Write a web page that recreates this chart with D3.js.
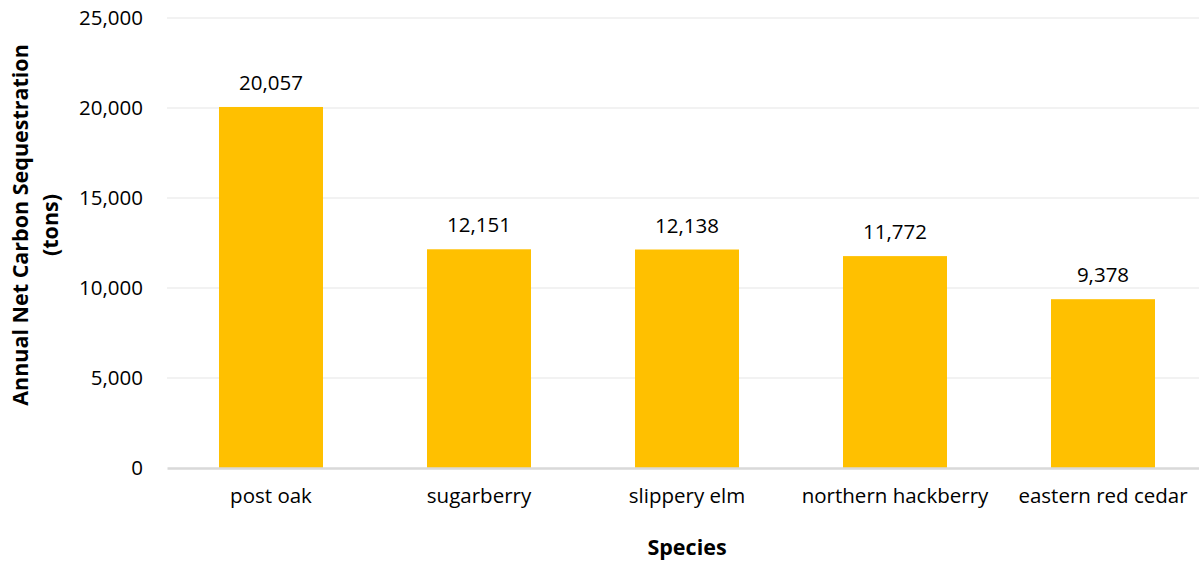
<!DOCTYPE html>
<html>
<head>
<meta charset="utf-8">
<script src="https://cdn.jsdelivr.net/npm/d3@7"></script>
<style>
  html, body { margin: 0; padding: 0; background: #fff; overflow: hidden; }
  svg { display: block; font-family: "Open Sans", "Liberation Sans", sans-serif; }
</style>
</head>
<body>
<svg id="chart" width="1199" height="561"></svg>
<script>
// Annual net carbon sequestration by species (tons)
const species = ["post oak", "sugarberry", "slippery elm", "northern hackberry", "eastern red cedar"];
const sequestration = [20057, 12151, 12138, 11772, 9378];
const yTicks = [0, 5000, 10000, 15000, 20000, 25000];

const svg = d3.select("#chart");
const margin = { left: 167, right: -8, top: 18, bottom: 93 };
const W = 1199, H = 561;
const labelSize = 20.5, titleSize = 21.5;

const x = d3.scaleBand()
  .domain(species)
  .range([margin.left, W - margin.right])
  .paddingInner(0.5)
  .paddingOuter(0.25);

const y = d3.scaleLinear()
  .domain([0, 25000])
  .range([H - margin.bottom, margin.top]);

const fmt = d3.format(",");

// horizontal gridlines
svg.append("g")
  .selectAll("line")
  .data(yTicks.filter(d => d > 0))
  .join("line")
  .attr("x1", margin.left)
  .attr("x2", W)
  .attr("y1", d => y(d))
  .attr("y2", d => y(d))
  .attr("stroke", "#eeeeee")
  .attr("stroke-width", 1.5);

// y axis tick labels
const yAxis = svg.append("g")
  .attr("transform", `translate(${margin.left},0)`)
  .call(d3.axisLeft(y).tickValues(yTicks).tickFormat(fmt).tickSize(0).tickPadding(24));
yAxis.select(".domain").remove();
yAxis.selectAll("text")
  .attr("font-size", labelSize)
  .attr("font-family", "'Open Sans', sans-serif")
  .attr("fill", "#000");

// bars
svg.append("g")
  .selectAll("rect")
  .data(species)
  .join("rect")
  .attr("x", d => x(d))
  .attr("width", x.bandwidth())
  .attr("y", (d, i) => y(sequestration[i]))
  .attr("height", (d, i) => y(0) - y(sequestration[i]))
  .attr("fill", "#ffc000");

// value labels
svg.append("g")
  .selectAll("text")
  .data(species)
  .join("text")
  .attr("x", d => x(d) + x.bandwidth() / 2)
  .attr("y", (d, i) => y(sequestration[i]) - 17)
  .attr("text-anchor", "middle")
  .attr("font-size", labelSize)
  .attr("fill", "#000")
  .text((d, i) => fmt(sequestration[i]));

// x axis baseline and category labels
const xAxis = svg.append("g")
  .attr("transform", `translate(0,${y(0)})`)
  .call(d3.axisBottom(x).tickSize(0).tickPadding(20));
xAxis.select(".domain")
  .attr("stroke", "#d9d9d9")
  .attr("stroke-width", 2.5);
xAxis.selectAll("text")
  .attr("font-size", labelSize)
  .attr("font-family", "'Open Sans', sans-serif")
  .attr("fill", "#000");

// axis titles
svg.append("text")
  .attr("x", (margin.left + W - margin.right) / 2)
  .attr("y", 555)
  .attr("text-anchor", "middle")
  .attr("font-size", titleSize)
  .attr("font-weight", "bold")
  .text("Species");

const yTitle = svg.append("text")
  .attr("transform", "translate(0,225) rotate(-90)")
  .attr("text-anchor", "middle")
  .attr("font-size", titleSize)
  .attr("font-weight", "bold");
yTitle.append("tspan").attr("x", 0).attr("y", 28).text("Annual Net Carbon Sequestration");
yTitle.append("tspan").attr("x", 0).attr("y", 58).text("(tons)");
</script>
</body>
</html>
